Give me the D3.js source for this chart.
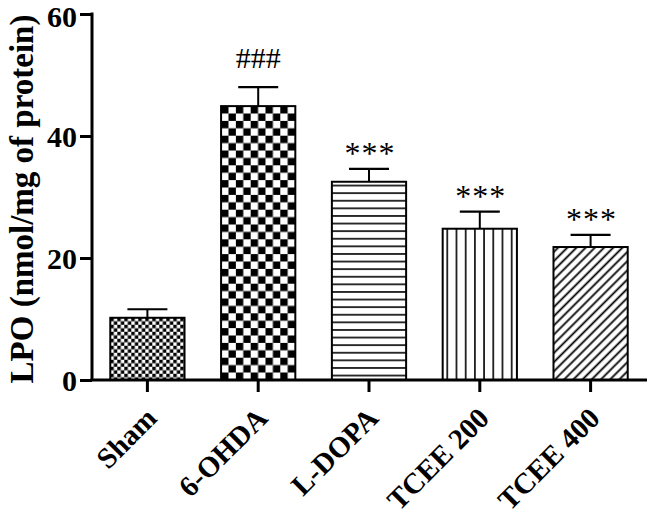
<!DOCTYPE html>
<html><head><meta charset="utf-8">
<script src="https://cdn.jsdelivr.net/npm/d3@7"></script>
<style>body{margin:0;background:#fff}svg{display:block}text{font-family:"Liberation Serif","Times New Roman",serif}</style>
</head><body><svg id="c" width="654" height="517"></svg>
<script>
const categories = ["Sham", "6-OHDA", "L-DOPA", "TCEE 200", "TCEE 400"];
const means = [10.2, 44.9, 32.5, 24.8, 21.8];
const errors = [1.4, 3.1, 2.1, 2.8, 2.0];
const marks = ["", "###", "***", "***", "***"];
const patterns = ["fineCheck", "bigCheck", "hLines", "vLines", "diag"];
const yTicks = [0, 20, 40, 60];
const yLabel = "LPO (nmol/mg of protein)";

const svg = d3.select("#c");
const defs = svg.append("defs");
{const s=3.5;const p=defs.append("pattern").attr("id","fineCheck").attr("patternUnits","userSpaceOnUse").attr("width",2*s).attr("height",2*s);
p.append("rect").attr("width",2*s).attr("height",2*s).attr("fill","#fff");
p.append("rect").attr("width",s).attr("height",s).attr("fill","#000");
p.append("rect").attr("x",s).attr("y",s).attr("width",s).attr("height",s).attr("fill","#000");}
{const s=7.4;const p=defs.append("pattern").attr("id","bigCheck").attr("patternUnits","userSpaceOnUse").attr("width",2*s).attr("height",2*s);
p.append("rect").attr("width",2*s).attr("height",2*s).attr("fill","#fff");
p.append("rect").attr("width",s).attr("height",s).attr("fill","#000");
p.append("rect").attr("x",s).attr("y",s).attr("width",s).attr("height",s).attr("fill","#000");}
{const s=7.6;const p=defs.append("pattern").attr("id","hLines").attr("patternUnits","userSpaceOnUse").attr("width",10).attr("height",s);
p.append("rect").attr("width",10).attr("height",s).attr("fill","#fff");
p.append("line").attr("x1",0).attr("x2",10).attr("y1",s/2).attr("y2",s/2).attr("stroke","#000").attr("stroke-width",1.6);}
{const s=9.2;const p=defs.append("pattern").attr("id","vLines").attr("patternUnits","userSpaceOnUse").attr("width",s).attr("height",10);
p.append("rect").attr("width",s).attr("height",10).attr("fill","#fff");
p.append("line").attr("y1",0).attr("y2",10).attr("x1",s/2).attr("x2",s/2).attr("stroke","#000").attr("stroke-width",1.6);}
{const s=6.5;const p=defs.append("pattern").attr("id","diag").attr("patternUnits","userSpaceOnUse").attr("width",s).attr("height",s).attr("patternTransform","rotate(45)");
p.append("rect").attr("width",s).attr("height",s).attr("fill","#fff");
p.append("line").attr("y1",0).attr("y2",s).attr("x1",s/2).attr("x2",s/2).attr("stroke","#000").attr("stroke-width",1.8);}

const x = d3.scaleBand().domain(categories).range([92, 646]).paddingInner(0.33).paddingOuter(0.165);
const y = d3.scaleLinear().domain([0, 60]).range([380, 14]);

const g = svg.append("g");
categories.forEach((c,i)=>{
  const bx = x(c), bw = x.bandwidth();
  const top = y(means[i]);
  const pid = patterns[i];
  d3.select("#"+pid).attr("x", bx).attr("y", top);
  g.append("rect").attr("x",bx).attr("y",top).attr("width",bw).attr("height",y(0)-top)
    .attr("fill","url(#"+pid+")").attr("stroke","#000").attr("stroke-width",2);
  const cx = bx + bw/2, et = y(means[i]+errors[i]);
  g.append("line").attr("x1",cx).attr("x2",cx).attr("y1",top).attr("y2",et).attr("stroke","#000").attr("stroke-width",2);
  g.append("line").attr("x1",cx-20).attr("x2",cx+20).attr("y1",et).attr("y2",et).attr("stroke","#000").attr("stroke-width",2.2);
  if (marks[i]) {
    const isHash = marks[i][0]==="#";
    g.append("text").attr("x",cx+ (isHash?0:1)).attr("y", isHash ? et-19 : et-5)
      .attr("text-anchor","middle").attr("font-size", isHash ? 30 : 32)
      .attr("letter-spacing", isHash ? 0 : 1)
      .attr("fill","#000").text(marks[i]);
  }
});

const ya = svg.append("g").attr("transform","translate(92,0)")
  .call(d3.axisLeft(y).tickValues(yTicks).tickSize(12).tickPadding(3).tickFormat(d3.format("d")));
ya.select(".domain").attr("stroke-width",3).attr("d","M0,"+y(0)+"V"+(y(60)-1.5));
ya.selectAll(".tick line").attr("stroke-width",3);
ya.selectAll(".tick text").attr("font-size",30).attr("font-weight","bold").attr("font-family","Liberation Serif")
  .attr("dy", d => d === 60 ? "0.43em" : "0.35em");

const xa = svg.append("g").attr("transform","translate(0,380)")
  .call(d3.axisBottom(x).tickSize(12).tickSizeOuter(0));
xa.select(".domain").attr("stroke-width",3).attr("d","M90.5,0H647");
xa.selectAll(".tick line").attr("stroke-width",3);
xa.selectAll(".tick text").remove();

svg.append("g").selectAll("g.lab").data(categories).join("g").attr("class","lab")
  .attr("transform", d => "translate(" + (x(d) + x.bandwidth()/2 + 11) + ",420)")
  .append("text").attr("transform","rotate(-45)").attr("text-anchor","end")
  .attr("font-size",29).attr("font-weight","bold").attr("fill","#000").text(d => d);

svg.append("text").attr("transform","translate(33,"+((y(0)+y(60))/2+2)+") rotate(-90)")
  .attr("text-anchor","middle").attr("font-size",33).attr("font-weight","bold").text(yLabel);
</script></body></html>
